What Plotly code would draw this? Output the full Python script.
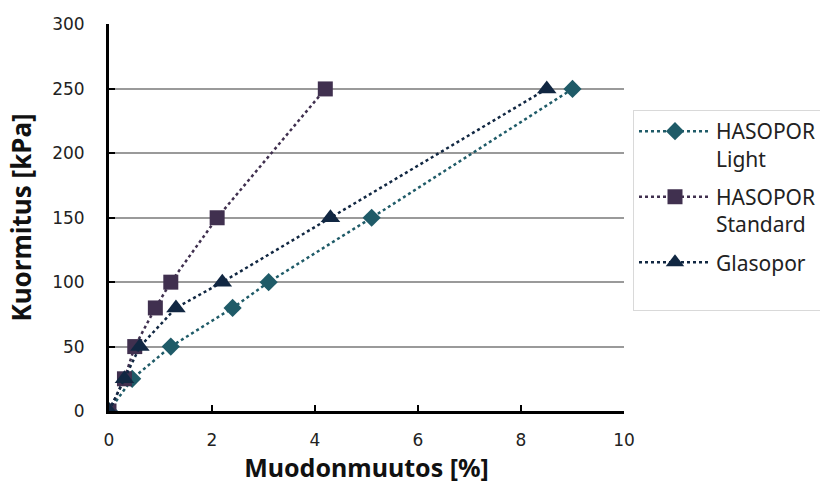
import plotly.graph_objects as go

light_x = [0, 0.45, 1.2, 2.4, 3.1, 5.1, 9.0]
light_y = [0, 25, 50, 80, 100, 150, 250]
std_x = [0, 0.3, 0.5, 0.9, 1.2, 2.1, 4.2]
std_y = [0, 25, 50, 80, 100, 150, 250]
glas_x = [0, 0.3, 0.6, 1.3, 2.2, 4.3, 8.5]
glas_y = [0, 25, 50, 80, 100, 150, 250]

names = ["HASOPOR<br>Light", "HASOPOR<br>Standard", "Glasopor<br>&nbsp;"]
colors = ["#1f5b68", "#40304f", "#112742"]
symbols = ["diamond", "square", "triangle-up"]
sizes = [14, 15, 17]

FONT = "Noto Sans"
TICKFONT = dict(family="DejaVu Sans", size=17, color="#222")
fig = go.Figure()
for i, (xs, ys, n, c, s, sz) in enumerate(zip([light_x, std_x, glas_x], [light_y, std_y, glas_y],
                                names, colors, symbols, sizes)):
    fig.add_trace(go.Scatter(x=xs, y=ys, name=n, mode="lines+markers", legendgroup=f"g{i}",
                             line=dict(color=c, width=2.5, dash="dot"),
                             marker=dict(symbol=s, size=sz, color=c)))

fig.update_layout(
    width=820, height=484,
    margin=dict(l=109, r=196, t=24, b=73),
    paper_bgcolor="white", plot_bgcolor="white",
    font=dict(family=FONT, size=16, color="#222"),
    showlegend=True,
    legend=dict(xref="container", yref="container", x=633/820, y=1-110/484,
                xanchor="left", yanchor="top", traceorder="grouped", valign="top",
                bordercolor="#d9d9d9", borderwidth=1, bgcolor="white",
                font=dict(size=21, color="#222"), tracegroupgap=8,
                itemwidth=72),
    xaxis=dict(range=[0, 10], dtick=2, showgrid=False, zeroline=False,
               showline=True, linecolor="black", linewidth=3, automargin=False,
               ticks="inside", ticklen=6, tickwidth=2, tickcolor="black",
               ticklabelstandoff=12, tickfont=TICKFONT,
               title=dict(text="<b>Muodonmuutos [%]</b>", font=dict(size=25, color="#111"), standoff=6)),
    yaxis=dict(range=[0, 300.4], tickvals=[0, 50, 100, 150, 200, 250, 300],
               showgrid=True, gridcolor="#9a9a9a", gridwidth=2,
               zeroline=False, showline=True, linecolor="black", linewidth=3, automargin=False,
               ticks="inside", ticklen=6, tickwidth=2, tickcolor="black",
               ticklabelstandoff=18, tickfont=TICKFONT,
               title=dict(text="<b>Kuormitus [kPa]</b>", font=dict(size=26, color="#111"), standoff=14)),
)
fig.write_html("out.html", config={"displayModeBar": False},
               post_script="document.body.style.margin='0';document.body.style.overflow='hidden';")
